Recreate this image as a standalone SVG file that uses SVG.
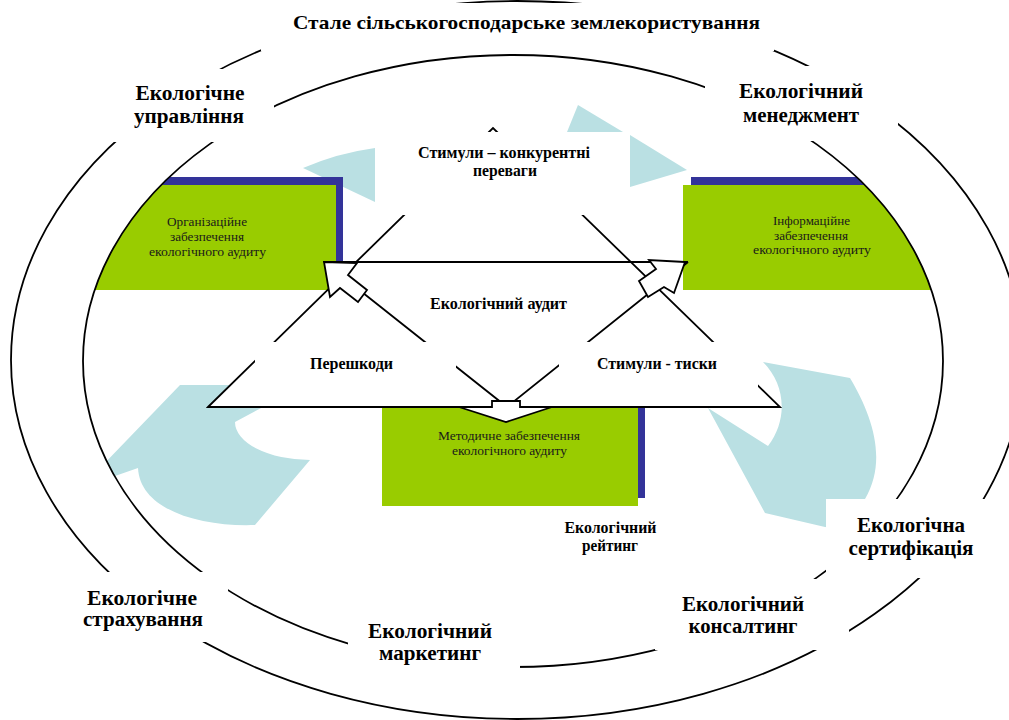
<svg xmlns="http://www.w3.org/2000/svg" width="1009" height="720" viewBox="0 0 1009 720">
<defs>
<style>
.lbl{font-family:"Liberation Serif","Times New Roman",serif;font-weight:bold;fill:#000;text-anchor:middle}
.big{font-size:20px}
.mid{font-size:16px}
.sm{font-size:16px}
.box{font-family:"Liberation Serif","Times New Roman",serif;font-size:13px;fill:#1a1a1a;text-anchor:middle}
.ln{fill:none;stroke:#000;stroke-width:1.8}
.tri{fill:#fff;stroke:#000;stroke-width:1.8;stroke-linejoin:miter}
.mask{fill:#fff}
.blue{fill:#BAE0E3}
.green{fill:#99CC00}
.shadow{fill:#333399}
.arrow{fill:#fff;stroke:#000;stroke-width:1.8;stroke-linejoin:miter}
</style>
<clipPath id="inner"><ellipse cx="513" cy="361" rx="430" ry="306"/></clipPath>
</defs>
<rect width="1009" height="720" fill="#fff"/>

<g id="cycle" clip-path="url(#inner)">
 <path class="blue" d="M303,168 Q338,153 375,148 L375,202 Z"/>
 <path class="blue" d="M567,132 L578,105 L623,132 Z"/>
 <path class="blue" d="M630,135 L687,170 L630,187 Z"/>
 <path class="blue" d="M180,385 L268,385 L263,407 L235,422 A75,38 0 0 0 310,460 L255,525 C200,527 140,510 138,468 L92,484 L100,468 Z"/>
 <path class="blue" d="M763,362 L850,378 C872,415 888,460 865,499 L850,530 L825,527 L765,513 L708,408 L768,446 C788,420 786,385 763,362 Z"/>
</g>

<g id="org">
 <g clip-path="url(#inner)">
  <rect class="shadow" x="60" y="177" width="283" height="105"/>
  <rect class="green" x="60" y="185" width="276" height="105"/>
 </g>
 <text class="box" x="207" y="226" textLength="80" lengthAdjust="spacingAndGlyphs">Організаційне</text>
 <text class="box" x="207" y="241" textLength="74" lengthAdjust="spacingAndGlyphs">забезпечення</text>
 <text class="box" x="207.5" y="256" textLength="117" lengthAdjust="spacingAndGlyphs">екологічного аудиту</text>
</g>

<g id="info">
 <g clip-path="url(#inner)">
  <rect class="shadow" x="691" y="177" width="277" height="105"/>
  <rect class="green" x="683" y="185" width="277" height="105"/>
 </g>
 <text class="box" x="811.5" y="225" textLength="77" lengthAdjust="spacingAndGlyphs">Інформаційне</text>
 <text class="box" x="811" y="240" textLength="74" lengthAdjust="spacingAndGlyphs">забезпечення</text>
 <text class="box" x="812" y="254" textLength="118" lengthAdjust="spacingAndGlyphs">екологічного аудиту</text>
</g>

<g id="method">
 <rect class="shadow" x="389" y="392" width="256" height="106"/>
 <rect class="green" x="382" y="400" width="256" height="106"/>
 <text class="box" x="509" y="440" textLength="142" lengthAdjust="spacingAndGlyphs">Методичне забезпечення</text>
 <text class="box" x="509.5" y="455" textLength="115" lengthAdjust="spacingAndGlyphs">екологічного аудиту</text>
</g>

<g id="connectors">
 <polygon class="tri" points="208,407 493,128 780,407"/>
 <polyline class="ln" points="324,262 688,262"/>
 <polyline class="ln" points="324,262 507,407 688,262"/>
 <rect class="mask" x="375" y="132" width="255" height="83"/>
 <rect class="mask" x="255" y="342" width="201" height="43"/>
 <rect class="mask" x="559" y="342" width="199" height="45"/>
 <path class="arrow" d="M324,262 L357,263 L348,275 L367,290 L358,302 L340,288 L330,297 Z"/>
 <path class="arrow" d="M685,262 L649,260 L656,269 L639,281 L648,297 L664,287 L674,293 Z"/>
 <path class="arrow" d="M492,407 L492,401 L520,401 L520,407 L552,407 L506,422 L459,407 Z"/>
</g>

<g id="stimuly-top">
 <text class="lbl mid" x="504" y="158" textLength="172" lengthAdjust="spacingAndGlyphs">Стимули – конкурентні</text>
 <text class="lbl mid" x="505" y="176" textLength="64" lengthAdjust="spacingAndGlyphs">переваги</text>
</g>
<g id="audit">
 <text class="lbl mid" x="498.5" y="309" textLength="137" lengthAdjust="spacingAndGlyphs">Екологічний аудит</text>
</g>
<g id="pereshkody">
 <text class="lbl mid" x="351.5" y="369" textLength="83" lengthAdjust="spacingAndGlyphs">Перешкоди</text>
</g>
<g id="stimuly-tysky">
 <text class="lbl mid" x="657" y="369" textLength="120" lengthAdjust="spacingAndGlyphs">Стимули - тиски</text>
</g>

<g id="rings">
 <ellipse class="ln" cx="517" cy="360" rx="506" ry="359"/>
 <ellipse class="ln" cx="513" cy="361" rx="430" ry="306"/>
</g>

<g id="title">
 <rect class="mask" x="261" y="3" width="513" height="48"/>
 <text class="lbl" style="font-size:19px" x="526.5" y="29" textLength="467" lengthAdjust="spacingAndGlyphs">Стале сільськогосподарське землекористування</text>
</g>
<g id="upravlinnya">
 <rect class="mask" x="105" y="69" width="169" height="73"/>
 <text class="lbl big" x="190" y="100" textLength="109" lengthAdjust="spacingAndGlyphs">Екологічне</text>
 <text class="lbl big" x="189" y="123" textLength="110" lengthAdjust="spacingAndGlyphs">управління</text>
</g>
<g id="menedzhment">
 <rect class="mask" x="705" y="66" width="193" height="75"/>
 <text class="lbl big" x="801" y="98" textLength="124" lengthAdjust="spacingAndGlyphs">Екологічний</text>
 <text class="lbl big" x="801" y="122" textLength="116" lengthAdjust="spacingAndGlyphs">менеджмент</text>
</g>
<g id="sertyfikatsiya">
 <rect class="mask" x="826" y="499" width="183" height="79"/>
 <text class="lbl big" x="911" y="532" textLength="108" lengthAdjust="spacingAndGlyphs">Екологічна</text>
 <text class="lbl big" x="911" y="555" textLength="125" lengthAdjust="spacingAndGlyphs">сертифікація</text>
</g>
<g id="konsaltyng">
 <rect class="mask" x="655" y="579" width="194" height="71"/>
 <text class="lbl big" x="743" y="611" textLength="122" lengthAdjust="spacingAndGlyphs">Екологічний</text>
 <text class="lbl big" x="743" y="633" textLength="109" lengthAdjust="spacingAndGlyphs">консалтинг</text>
</g>
<g id="marketyng">
 <rect class="mask" x="348" y="615" width="172" height="75"/>
 <text class="lbl big" x="430" y="638" textLength="124" lengthAdjust="spacingAndGlyphs">Екологічний</text>
 <text class="lbl big" x="430" y="660" textLength="102" lengthAdjust="spacingAndGlyphs">маркетинг</text>
</g>
<g id="strakhuvannya">
 <rect class="mask" x="80" y="572" width="148" height="70"/>
 <text class="lbl big" x="142" y="605" textLength="110" lengthAdjust="spacingAndGlyphs">Екологічне</text>
 <text class="lbl big" x="143" y="626" textLength="120" lengthAdjust="spacingAndGlyphs">страхування</text>
</g>
<g id="reytyng">
 <text class="lbl sm" x="610.5" y="533" textLength="92" lengthAdjust="spacingAndGlyphs">Екологічний</text>
 <text class="lbl sm" x="610" y="551" textLength="56" lengthAdjust="spacingAndGlyphs">рейтинг</text>
</g>
</svg>
